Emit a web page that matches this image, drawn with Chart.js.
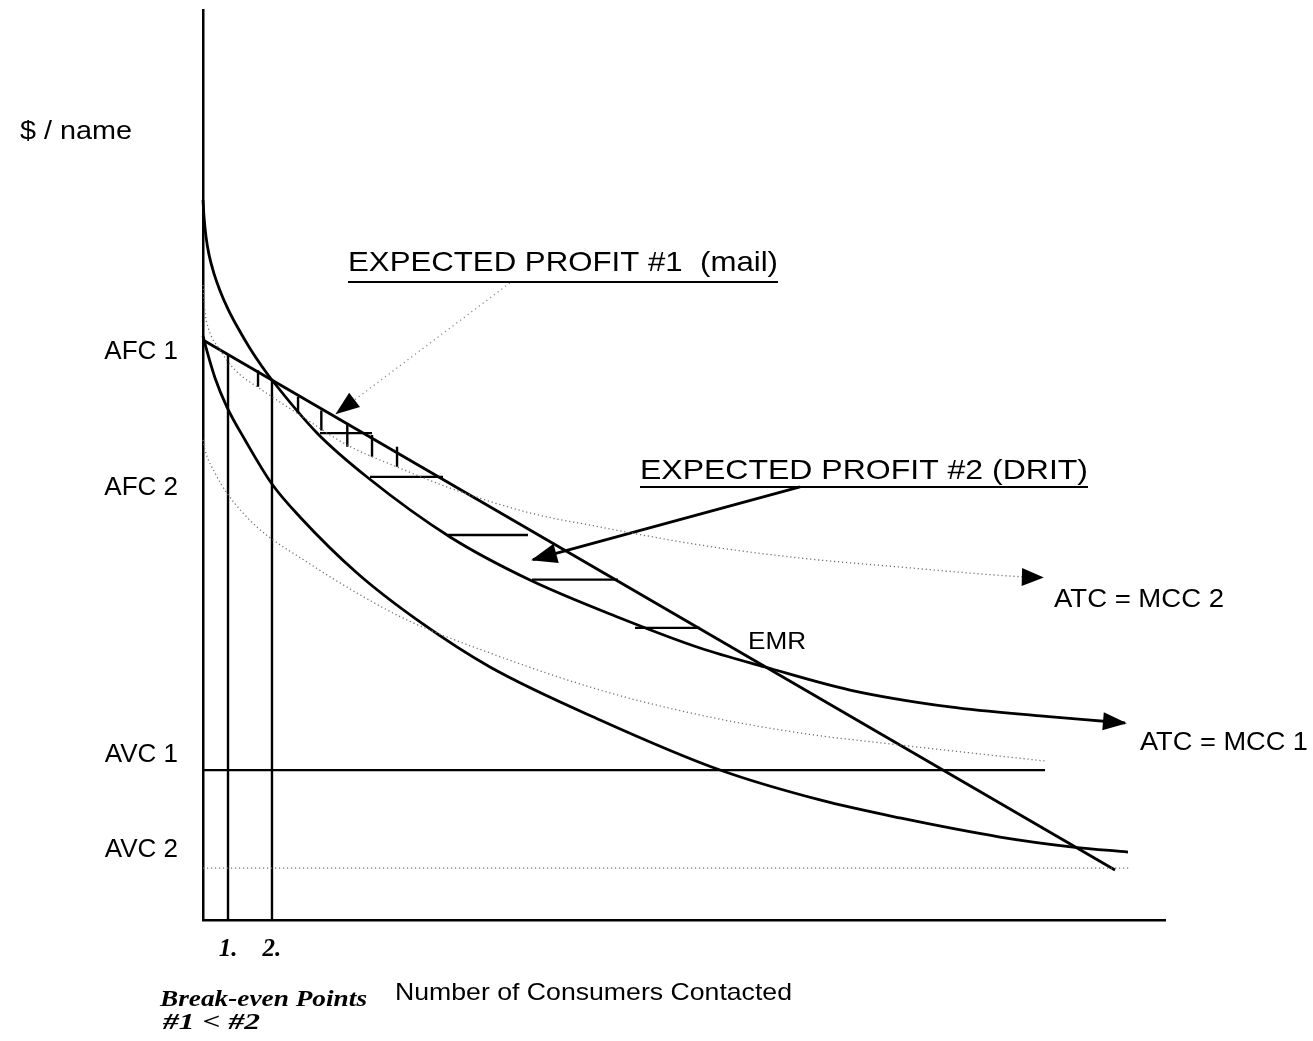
<!DOCTYPE html>
<html>
<head>
<meta charset="utf-8">
<script src="https://cdn.jsdelivr.net/npm/chart.js@4.4.1/dist/chart.umd.min.js"></script>
<style>
  html, body { margin: 0; padding: 0; background: #fff; }
</style>
</head>
<body>
<canvas id="chart" width="1313" height="1041"></canvas>
<script>
// axis labels
const costTicks = [7.7, 18.2, 47.5, 62.4];
const costTickLabels = ['AVC 2', 'AVC 1', 'AFC 2', 'AFC 1'];
const breakEvenX = [2.6, 7.17];
const breakEvenTop = [62.1, 59.34];
const breakEvenLabels = ['1.', '2.'];

// ATC = MCC 1 (solid)
const atc1X = [0, 0.104, 0.312, 0.624, 1.143, 1.767, 2.599, 3.638, 4.886, 6.133, 7.17, 11.85, 17.05, 25.68, 33.99, 43.35, 51.66, 58.42, 67.26, 77.65, 87.01, 94.59, 95.84];
const atc1Y = [79.12, 77.3, 75.1, 73.12, 71.03, 69.16, 67.14, 65.05, 62.8, 60.82, 59.34, 53.52, 48.68, 42.09, 37.36, 33.19, 29.89, 27.8, 25.27, 23.41, 22.42, 21.76, 21.65];

// ATC = MCC 2 (dotted)
const atc2X = [0, 0.21, 0.52, 1.77, 3.33, 6.13, 10.08, 14.97, 20.17, 25.68, 33.99, 41.27, 51.66, 62.06, 72.45, 85.65, 87.2];
const atc2Y = [69.78, 66.81, 65.16, 62.64, 60.44, 58.24, 55.49, 52.2, 49.78, 47.47, 44.73, 43.19, 41.21, 39.78, 38.79, 37.69, 37.65];

// AFC 1 (solid)
const afc1X = [0, 0.21, 1.25, 2.49, 4.37, 7.17, 10.08, 16.01, 22.56, 29.83, 41.27, 53.74, 64.14, 72.45, 82.85, 90.44, 96.15];
const afc1Y = [64.18, 63.3, 59.56, 56.37, 52.75, 47.91, 44.29, 38.13, 32.75, 27.8, 21.98, 16.48, 13.19, 11.21, 9.12, 8.02, 7.47];

// AFC 2 (dotted)
const afc2X = [0, 0.21, 1.25, 2.49, 5.61, 10.81, 16.01, 21.21, 29.83, 41.27, 51.66, 62.06, 72.45, 87.53];
const afc2Y = [52.75, 51.65, 49.12, 46.92, 43.19, 39.34, 35.93, 32.97, 29.34, 25.27, 22.53, 20.55, 19.23, 17.47];

// EMR (straight)
const emrX = [0, 94.8];
const emrY = [63.74, 5.5];

// AVC levels
const avc1 = { y: 16.48, xEnd: 87.53 };
const avc2 = { y: 5.71, xEnd: 96.2 };

// hatching of the profit areas
const hatchVX = [5.72, 9.88, 12.3, 15.0, 17.57, 20.17];
const hatchVTop = [60.4, 57.5, 56.0, 54.6, 53.3, 52.0];
const hatchVBottom = [58.6, 55.7, 53.8, 52.0, 50.9, 49.8];
const hatchHY = [53.5, 48.7, 42.3, 37.4, 32.1];
const hatchHX0 = [12.16, 17.36, 25.47, 34.2, 44.91];
const hatchHX1 = [17.57, 24.95, 33.78, 43.14, 51.66];

// pointers from the profit labels
const pointer1X = [31.9, 13.93];
const pointer1Y = [70.0, 55.7];
const pointer2X = [62.06, 34.3];
const pointer2Y = [47.6, 39.6];

const pts = (xs, ys) => xs.map((x, i) => ({ x, y: ys[i] }));

const hatchData = [];
hatchVX.forEach((x, i) => {
  hatchData.push({ x, y: hatchVTop[i] }, { x, y: hatchVBottom[i] }, { x, y: null });
});
hatchHY.forEach((y, i) => {
  hatchData.push({ x: hatchHX0[i], y }, { x: hatchHX1[i], y }, { x: hatchHX1[i], y: null });
});

const breakEvenData = [];
breakEvenX.forEach((x, i) => {
  breakEvenData.push({ x, y: 0 }, { x, y: breakEvenTop[i] }, { x, y: null });
});

const dotted = { borderColor: '#707070', borderWidth: 1.3, borderDash: [1.2, 2.8] };
const solid = { borderColor: '#000', borderWidth: 2.8 };

const datasets = [
  { data: pts(atc2X, atc2Y), ...dotted, cubicInterpolationMode: 'monotone', arrow: [20, 9] },
  { data: pts(afc2X, afc2Y), ...dotted, cubicInterpolationMode: 'monotone' },
  { data: [{ x: 0, y: avc2.y }, { x: avc2.xEnd, y: avc2.y }], ...dotted },
  { data: pts(pointer1X, pointer1Y), borderColor: '#8a8a8a', borderWidth: 1.3, borderDash: [1.2, 3.5], arrow: [22, 9] },
  { data: pts(atc1X, atc1Y), ...solid, cubicInterpolationMode: 'monotone', arrow: [22, 9] },
  { data: pts(afc1X, afc1Y), ...solid, cubicInterpolationMode: 'monotone' },
  { data: pts(emrX, emrY), ...solid },
  { data: [{ x: 0, y: avc1.y }, { x: avc1.xEnd, y: avc1.y }], borderColor: '#000', borderWidth: 2.2 },
  { data: breakEvenData, borderColor: '#000', borderWidth: 2.4 },
  { data: hatchData, borderColor: '#000', borderWidth: 2.4 },
  { data: pts(pointer2X, pointer2Y), ...solid, arrow: [24, 10] }
].map(d => ({ showLine: true, fill: false, pointRadius: 0, tension: 0, clip: false, ...d }));

const arrowHeads = {
  id: 'arrowHeads',
  afterDatasetsDraw(chart) {
    const ctx = chart.ctx;
    chart.data.datasets.forEach((ds, i) => {
      if (!ds.arrow) return;
      const el = chart.getDatasetMeta(i).data;
      const a = el[el.length - 2], b = el[el.length - 1];
      const ang = Math.atan2(b.y - a.y, b.x - a.x);
      ctx.save();
      ctx.translate(b.x, b.y);
      ctx.rotate(ang);
      ctx.beginPath();
      ctx.moveTo(2, 0);
      ctx.lineTo(-ds.arrow[0], -ds.arrow[1]);
      ctx.lineTo(-ds.arrow[0], ds.arrow[1]);
      ctx.closePath();
      ctx.fillStyle = '#000';
      ctx.fill();
      ctx.restore();
    });
  }
};

const sans = '"Liberation Sans", Arial, sans-serif';
const serif = '"Liberation Serif", "Times New Roman", serif';
const notes = [
  { text: '$ / name', x: 20, y: 139, font: '26px ' + sans, w: 112 },
  { text: 'EXPECTED PROFIT #1  (mail)', x: 348, y: 271, font: '28px ' + sans, w: 430, underline: 281 },
  { text: 'EXPECTED PROFIT #2 (DRIT)', x: 640, y: 479, font: '28px ' + sans, w: 448, underline: 486 },
  { text: 'ATC = MCC 2', x: 1054, y: 607, font: '26px ' + sans, w: 170 },
  { text: 'EMR', x: 748, y: 649, font: '24px ' + sans, w: 58 },
  { text: 'ATC = MCC 1', x: 1140, y: 750, font: '26px ' + sans, w: 168 },
  { text: 'Number of Consumers Contacted', x: 395, y: 1000, font: '24px ' + sans, w: 397 },
  { text: 'Break-even Points', x: 160, y: 1006, font: 'italic bold 23px ' + serif, w: 207 },
  { text: '#1 < #2', x: 163, y: 1029, font: 'italic bold 23px ' + serif, w: 97 }
];

const notesPlugin = {
  id: 'notes',
  afterDraw(chart) {
    const ctx = chart.ctx;
    ctx.save();
    ctx.fillStyle = '#000';
    ctx.textBaseline = 'alphabetic';
    ctx.textAlign = 'left';
    notes.forEach(t => {
      ctx.font = t.font;
      const w = ctx.measureText(t.text).width;
      ctx.save();
      ctx.translate(t.x, t.y);
      ctx.scale(t.w / w, 1);
      ctx.fillText(t.text, 0, 0);
      ctx.restore();
      if (t.underline) ctx.fillRect(t.x, t.underline, t.w, 2);
    });
    ctx.restore();
  }
};

new Chart(document.getElementById('chart'), {
  type: 'scatter',
  data: { datasets },
  options: {
    responsive: false,
    animation: false,
    devicePixelRatio: 1,
    layout: { padding: { top: 10, right: 148, left: 0, bottom: 0 } },
    plugins: { legend: { display: false }, tooltip: { enabled: false } },
    scales: {
      x: {
        type: 'linear', min: 0, max: 100,
        afterBuildTicks: s => { s.ticks = breakEvenX.map(v => ({ value: v })); },
        afterFit: s => { s.height = 121; s.paddingLeft = 0; s.paddingRight = 0; },
        grid: { drawOnChartArea: false, drawTicks: false },
        border: { color: '#000', width: 2.5 },
        ticks: {
          autoSkip: false, maxRotation: 0, padding: 15, color: '#000',
          font: { family: serif, size: 25, style: 'italic', weight: 'bold' },
          callback: (v, i) => breakEvenLabels[i]
        }
      },
      y: {
        type: 'linear', min: 0, max: 100,
        afterBuildTicks: s => { s.ticks = costTicks.map(v => ({ value: v })); },
        afterFit: s => { s.width = 203; s.paddingTop = 0; s.paddingBottom = 0; },
        grid: { drawOnChartArea: false, drawTicks: false },
        border: { color: '#000', width: 2.5 },
        ticks: {
          autoSkip: false, padding: 25, color: '#000',
          font: { family: sans, size: 26 },
          callback: (v, i) => costTickLabels[i]
        }
      }
    }
  },
  plugins: [arrowHeads, notesPlugin]
});
</script>
</body>
</html>
